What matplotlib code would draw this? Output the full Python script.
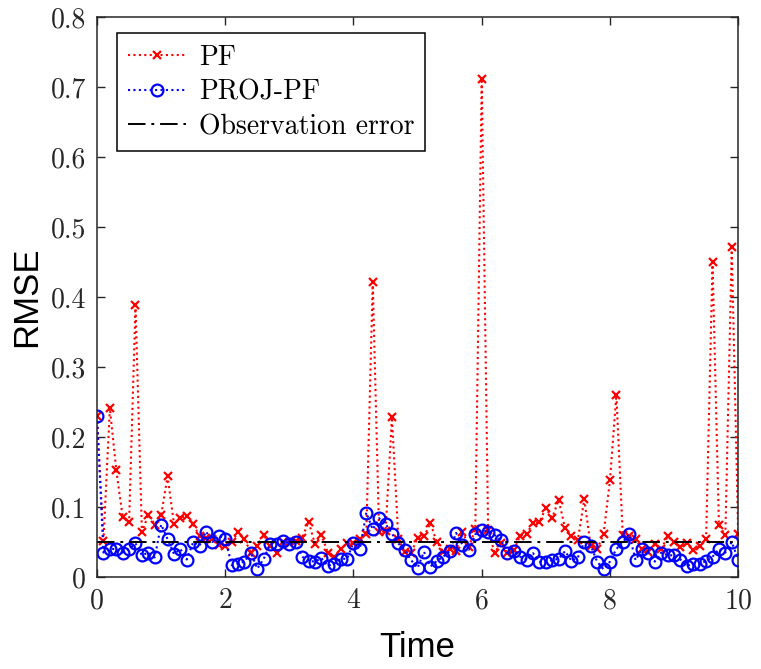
import numpy as np
import matplotlib.pyplot as plt

# time grid, 0.1 step
time = np.round(np.arange(0, 10.01, 0.1), 1)

pf_rmse = [
    0.230, 0.052, 0.241, 0.153, 0.086, 0.078, 0.388, 0.064, 0.089, 0.075,
    0.088, 0.144, 0.076, 0.085, 0.087, 0.076, 0.058, 0.056, 0.055, 0.046,
    0.045, 0.050, 0.064, 0.054, 0.035, 0.045, 0.060, 0.045, 0.035, 0.050,
    0.048, 0.052, 0.056, 0.079, 0.047, 0.060, 0.035, 0.028, 0.040, 0.048,
    0.048, 0.055, 0.062, 0.421, 0.064, 0.066, 0.228, 0.054, 0.036, 0.035,
    0.056, 0.058, 0.077, 0.050, 0.036, 0.040, 0.037, 0.065, 0.043, 0.068,
    0.712, 0.067, 0.035, 0.048, 0.034, 0.038, 0.059, 0.062, 0.077, 0.079,
    0.098, 0.085, 0.110, 0.070, 0.058, 0.053, 0.111, 0.044, 0.040, 0.061,
    0.138, 0.260, 0.060, 0.058, 0.054, 0.040, 0.036, 0.047, 0.040, 0.058,
    0.050, 0.043, 0.049, 0.038, 0.045, 0.055, 0.450, 0.074, 0.060, 0.471,
    0.062,
]

proj_rmse = [
    0.230, 0.035, 0.040, 0.040, 0.035, 0.040, 0.048, 0.031, 0.035, 0.028,
    0.075, 0.054, 0.033, 0.040, 0.025, 0.050, 0.045, 0.065, 0.050, 0.059,
    0.055, 0.017, 0.019, 0.022, 0.035, 0.012, 0.026, 0.047, 0.047, 0.052,
    0.047, 0.050, 0.029, 0.023, 0.022, 0.027, 0.016, 0.019, 0.026, 0.026,
    0.049, 0.040, 0.092, 0.068, 0.084, 0.076, 0.062, 0.048, 0.038, 0.024,
    0.013, 0.036, 0.015, 0.023, 0.029, 0.037, 0.063, 0.046, 0.039, 0.061,
    0.067, 0.065, 0.060, 0.053, 0.034, 0.037, 0.029, 0.025, 0.034, 0.022,
    0.022, 0.024, 0.026, 0.037, 0.023, 0.028, 0.050, 0.045, 0.022, 0.011,
    0.022, 0.040, 0.050, 0.061, 0.024, 0.040, 0.034, 0.022, 0.035, 0.031,
    0.031, 0.025, 0.016, 0.019, 0.018, 0.023, 0.029, 0.040, 0.035, 0.050,
    0.025,
]

obs_error = 0.05

x_ticks = [0, 2, 4, 6, 8, 10]
y_ticks = [0, 0.1, 0.2, 0.3, 0.4, 0.5, 0.6, 0.7, 0.8]

serif = "cmr10"
sans = "Liberation Sans"

fig = plt.figure(figsize=(7.61, 6.69), dpi=100)
ax = fig.add_axes([0.1275, 0.1375, 0.8425, 0.837])

dots = (0, (1, 1.6))
ax.plot(time, pf_rmse, color="red", linestyle=dots, linewidth=1.5,
        marker="x", markersize=5.5, markeredgewidth=1.6, label="PF")
ax.plot(time, proj_rmse, color="blue", linestyle=dots, linewidth=1.5,
        marker="o", markersize=8.5, markerfacecolor="none",
        markeredgewidth=1.6, label="PROJ-PF")
ax.plot([time[0], time[-1]], [obs_error, obs_error], color="black",
        linestyle=(0, (9, 3, 1.5, 3)), linewidth=1.4, label="Observation error")

ax.set_xlim(0, 10)
ax.set_ylim(0, 0.8)
ax.set_xticks(x_ticks)
ax.set_yticks(y_ticks)
ax.set_xticklabels([f"{v:g}" for v in x_ticks], fontfamily=serif, fontsize=20)
ax.set_yticklabels([f"{v:g}" for v in y_ticks], fontfamily=serif, fontsize=20)
ax.tick_params(direction="in", length=6, width=1, colors="#262626",
               top=True, right=True, pad=8)

for s in ax.spines.values():
    s.set_color("#262626")
    s.set_linewidth(1.1)

ax.set_xlabel("Time", fontfamily=sans, fontsize=25, labelpad=12)
ax.set_ylabel("RMSE", fontfamily=sans, fontsize=25, labelpad=5)

leg = ax.legend(loc="upper left", bbox_to_anchor=(0.031, 0.971),
                prop={"family": serif, "size": 20}, frameon=True,
                fancybox=False, edgecolor="black", framealpha=1,
                handlelength=2.1, labelspacing=0.3, borderpad=0.4,
                handletextpad=0.45, borderaxespad=0)
leg.get_frame().set_linewidth(1.1)

fig.savefig("out.png", dpi=100)
plt.close(fig)
